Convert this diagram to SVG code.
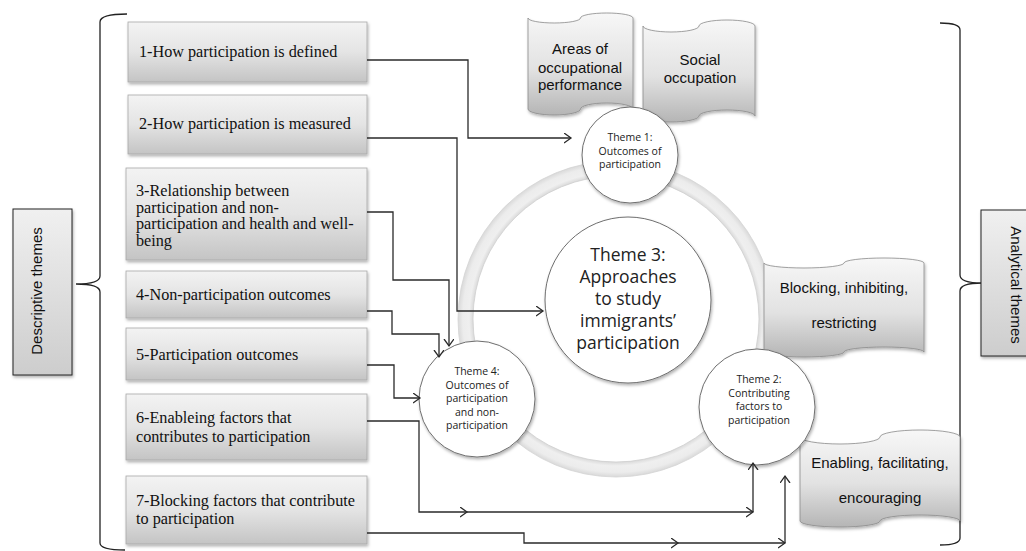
<svg xmlns="http://www.w3.org/2000/svg" width="1026" height="551" viewBox="0 0 1026 551">
<style>
.box{fill:url(#gBox);stroke:#a8a8a8;stroke-width:0.8}
.boxb{stroke:#555;stroke-width:2}
.bt{font-family:"Liberation Serif","Times New Roman",serif;font-size:16.2px;fill:#111}
.st{font-family:"Liberation Sans",Arial,sans-serif;font-size:15px;fill:#111;text-anchor:middle}
.doc{fill:url(#gDoc);stroke:#8a8a8a;stroke-width:0.8}
.circ{fill:#fff;stroke:#6e6e6e;stroke-width:1}
.tt{font-family:"Open Sans","Noto Sans",sans-serif;fill:#222;text-anchor:middle}
.con{fill:none;stroke:#2a2a2a;stroke-width:1.3}
.arr{marker-end:url(#ah)}
.brace{fill:none;stroke:#222;stroke-width:1.3}
.side{fill:url(#gSide);stroke:#222;stroke-width:1}
</style>
<defs>
<linearGradient id="gBox" x1="0" y1="0" x2="0" y2="1">
<stop offset="0" stop-color="#f3f3f3"/><stop offset="0.5" stop-color="#e4e4e4"/><stop offset="1" stop-color="#c4c4c4"/>
</linearGradient>
<linearGradient id="gSide" x1="0" y1="0" x2="0" y2="1">
<stop offset="0" stop-color="#f0f0f0"/><stop offset="1" stop-color="#cdcdcd"/>
</linearGradient>
<linearGradient id="gDoc" x1="0" y1="0" x2="0" y2="1">
<stop offset="0" stop-color="#f7f7f7"/><stop offset="0.55" stop-color="#e2e2e2"/><stop offset="1" stop-color="#b5b5b5"/>
</linearGradient>
<radialGradient id="gRing" gradientUnits="userSpaceOnUse" cx="616" cy="319" r="158">
<stop offset="0.9" stop-color="#d6d6d6"/><stop offset="0.93" stop-color="#efefef"/><stop offset="0.97" stop-color="#ececec"/><stop offset="1" stop-color="#d9d9d9"/>
</radialGradient>
<filter id="sh" x="-20%" y="-20%" width="140%" height="140%">
<feDropShadow dx="1" dy="2" stdDeviation="1.5" flood-color="#000" flood-opacity="0.3"/>
</filter>
<marker id="ah" markerUnits="userSpaceOnUse" markerWidth="12" markerHeight="12" refX="7" refY="5" orient="auto">
<path d="M0,0 L7,5 L0,10" fill="none" stroke="#2a2a2a" stroke-width="1.3"/>
</marker>
</defs>
<rect width="1026" height="551" fill="#fff"/>

<g id="brackets">
<path class="brace" d="M127,14 Q100,14 100,22 L100,276 Q100,284 76,284 Q100,284 100,292 L100,543 Q100,550 125,550"/>
<path class="brace" d="M940,23 Q960,23 960,30 L960,275 Q960,283 982,283 Q960,283 960,291 L960,538 Q960,545 940,545"/>
</g>

<g id="descriptive-themes">
<rect class="side" x="13" y="209" width="59" height="166" filter="url(#sh)"/>
<text class="st" transform="translate(42,291) rotate(-90)" font-size="14.8">Descriptive themes</text>
</g>
<g id="analytical-themes">
<rect class="side" x="981" y="210" width="50" height="146" filter="url(#sh)"/>
<text class="st" transform="translate(1011,285) rotate(90)">Analytical themes</text>
</g>

<g id="box1"><rect class="box" x="128" y="22" width="239" height="60" filter="url(#sh)"/><text class="bt" x="139" y="57">1-How participation is defined</text></g>
<g id="box2"><rect class="box" x="128" y="95" width="239" height="59" filter="url(#sh)"/><text class="bt" x="139" y="129">2-How participation is measured</text></g>
<g id="box3"><rect class="box" x="126" y="168" width="241" height="92" filter="url(#sh)"/><text class="bt" x="136" y="196">3-Relationship between</text><text class="bt" x="136" y="212.5">participation and non-</text><text class="bt" x="136" y="229">participation and health and well-</text><text class="bt" x="136" y="245.5">being</text></g>
<g id="box4"><rect class="box" x="126" y="271" width="241" height="47" filter="url(#sh)"/><text class="bt" x="136" y="300">4-Non-participation outcomes</text></g>
<g id="box5"><rect class="box" x="126" y="328" width="241" height="52" filter="url(#sh)"/><text class="bt" x="136" y="360">5-Participation outcomes</text></g>
<g id="box6"><rect class="box" x="126" y="394" width="241" height="66" filter="url(#sh)"/><text class="bt" x="136" y="423">6-Enableing factors that</text><text class="bt" x="136" y="441.5">contributes to participation</text></g>
<g id="box7"><rect class="box" x="126" y="476" width="241" height="68" filter="url(#sh)"/><text class="bt" x="136" y="506">7-Blocking factors that contribute</text><text class="bt" x="136" y="524">to participation</text></g>

<g id="ring">
<circle cx="616" cy="319" r="158" fill="url(#gRing)" stroke="#d4d4d4" stroke-width="0.8"/>
<circle cx="616" cy="319" r="143" fill="#fff" stroke="#cfcfcf" stroke-width="0.8"/>
</g>

<g id="doc-areas">
<path class="doc" filter="url(#sh)" d="M528,18 A26.25,5 0 0 0 580.5,18 A26.25,5 0 0 1 633,18 L633,109 A26.25,6 0 0 0 580.5,109 A26.25,6 0 0 1 528,109 Z"/>
<text class="st" x="580" y="54">Areas of</text><text class="st" x="580" y="72.5">occupational</text><text class="st" x="580" y="90">performance</text>
</g>
<g id="doc-social">
<path class="doc" filter="url(#sh)" d="M643,26 A28,6 0 0 0 699,26 A28,6 0 0 1 755,26 L755,116 A28,6 0 0 0 699,116 A28,6 0 0 1 643,116 Z"/>
<text class="st" x="700" y="65">Social</text><text class="st" x="700" y="83">occupation</text>
</g>
<g id="doc-blocking">
<path class="doc" filter="url(#sh)" d="M764,263 A40,5 0 0 0 844,263 A40,5 0 0 1 924,263 L924,352 A40,5 0 0 0 844,352 A40,5 0 0 1 764,352 Z"/>
<text class="st" x="844" y="293">Blocking, inhibiting,</text><text class="st" x="844" y="328">restricting</text>
</g>
<g id="doc-enabling">
<path class="doc" filter="url(#sh)" d="M800,437 A40,7 0 0 0 880,437 A40,7 0 0 1 960,437 L960,521 A40,6 0 0 0 880,521 A40,6 0 0 1 800,521 Z"/>
<text class="st" x="880" y="468">Enabling, facilitating,</text><text class="st" x="880" y="503">encouraging</text>
</g>

<g id="theme3">
<circle class="circ" cx="628" cy="300" r="83" filter="url(#sh)"/>
<text class="tt" font-size="17.5"><tspan x="628" y="261">Theme 3:</tspan><tspan x="628" y="283">Approaches</tspan><tspan x="628" y="305">to study</tspan><tspan x="628" y="327">immigrants’</tspan><tspan x="628" y="349">participation</tspan></text>
</g>
<g id="theme1">
<circle class="circ" cx="630" cy="155" r="48" filter="url(#sh)"/>
<text class="tt" font-size="10.5"><tspan x="630" y="141">Theme 1:</tspan><tspan x="630" y="154.5">Outcomes of</tspan><tspan x="630" y="168">participation</tspan></text>
</g>
<g id="theme4">
<circle class="circ" cx="477" cy="399" r="58" filter="url(#sh)"/>
<text class="tt" font-size="10.5"><tspan x="477" y="375">Theme 4:</tspan><tspan x="477" y="388.5">Outcomes of</tspan><tspan x="477" y="402">participation</tspan><tspan x="477" y="415.5">and non-</tspan><tspan x="477" y="429">participation</tspan></text>
</g>
<g id="theme2">
<circle class="circ" cx="757" cy="407" r="58" filter="url(#sh)"/>
<text class="tt" font-size="10.5"><tspan x="759" y="383">Theme 2:</tspan><tspan x="759" y="396.5">Contributing</tspan><tspan x="759" y="410">factors to</tspan><tspan x="759" y="423.5">participation</tspan></text>
</g>

<g id="connectors">
<path class="con arr" d="M367,60 H468 V138 H571"/>
<path class="con arr" d="M367,138 H457 V311 H543"/>
<path class="con arr" d="M367,212 H393 V280 H449 V346"/>
<path class="con arr" d="M367,311 H392 V334 H439 V357"/>
<path class="con arr" d="M367,365 H394 V398 H420"/>
<path class="con arr" d="M367,421 H419 V512 H467"/>
<path class="con arr" d="M467,512 H753"/>
<path class="con arr" d="M753,512 V463"/>
<path class="con arr" d="M367,533 H524 V543 H678"/>
<path class="con arr" d="M678,543 H785"/>
<path class="con arr" d="M785,543 V476"/>
</g>
</svg>
